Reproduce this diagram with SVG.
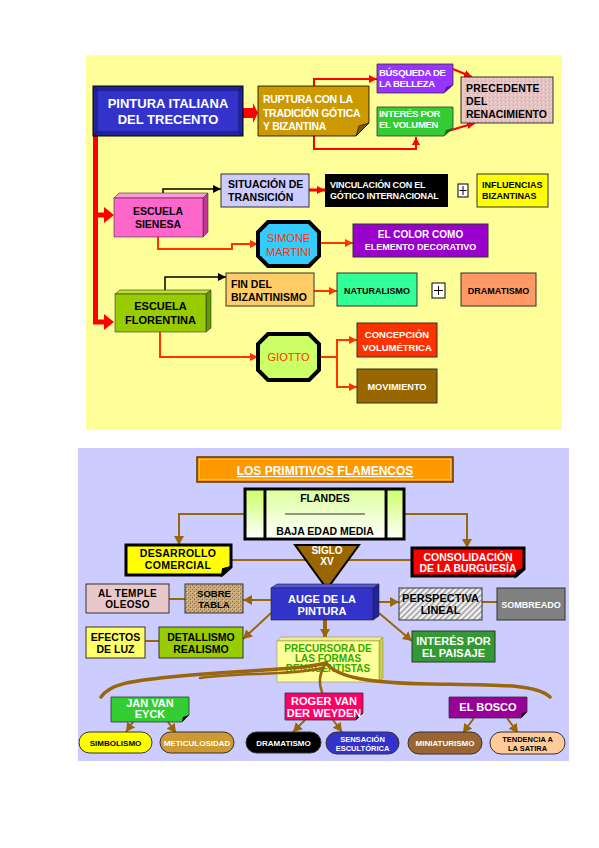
<svg xmlns="http://www.w3.org/2000/svg" width="599" height="848" viewBox="0 0 599 848">
<defs>
<style>
.t{font-family:"Liberation Sans",Arial,sans-serif;font-weight:bold}
.c{text-anchor:middle}
.w{fill:#fff}
.k{fill:#000}
.bx{stroke:#000;stroke-width:1}
.rl{fill:none;stroke:#f00;stroke-width:2}
.ol{fill:none;stroke:#ff3300;stroke-width:2}
.bl{fill:none;stroke:#000;stroke-width:1.5}
.br{fill:none;stroke:#99660a;stroke-width:2}
</style>
<marker id="ar" markerUnits="userSpaceOnUse" markerWidth="10" markerHeight="10" refX="8" refY="4" orient="auto"><path d="M0,0 L8,4 L0,8 Z" fill="#f00"/></marker>
<marker id="ao" markerUnits="userSpaceOnUse" markerWidth="10" markerHeight="10" refX="8" refY="4" orient="auto"><path d="M0,0 L8,4 L0,8 Z" fill="#ff3300"/></marker>
<marker id="ab" markerUnits="userSpaceOnUse" markerWidth="10" markerHeight="10" refX="8" refY="4" orient="auto"><path d="M0,0 L8,4 L0,8 Z" fill="#000"/></marker>
<marker id="abr" markerUnits="userSpaceOnUse" markerWidth="12" markerHeight="12" refX="9" refY="5" orient="auto"><path d="M0,0 L9,5 L0,10 Z" fill="#99660a"/></marker>
<pattern id="pink" width="4" height="4" patternUnits="userSpaceOnUse"><rect width="4" height="4" fill="#e6c4c4"/><rect x="1" y="1" width="1" height="1" fill="#c9a0a0"/><rect x="3" y="2" width="1" height="1" fill="#f3dcdc"/></pattern>
<pattern id="wood" width="4" height="4" patternUnits="userSpaceOnUse"><rect width="4" height="4" fill="#c8a878"/><rect x="0" y="1" width="1" height="1" fill="#8c6a40"/><rect x="2" y="3" width="1" height="1" fill="#8c6a40"/><rect x="3" y="0" width="1" height="1" fill="#e0c898"/></pattern>
<pattern id="hatch" width="4" height="4" patternUnits="userSpaceOnUse" patternTransform="rotate(45)"><rect width="4" height="4" fill="#f2f2f2"/><rect width="1.5" height="4" fill="#9a9a9a"/></pattern>
<linearGradient id="gfl" x1="0" y1="0" x2="0" y2="1"><stop offset="0" stop-color="#ccff66"/><stop offset="1" stop-color="#ffffff"/></linearGradient>
</defs>

<!-- backgrounds -->
<rect x="86" y="55" width="476" height="375" fill="#ffff99"/>
<rect x="78" y="448" width="491" height="313" fill="#ccccff"/>

<!-- ===================== TOP DIAGRAM ===================== -->
<g id="connectors-top">
  <polygon points="241,108 253,108 253,103 258,113 253,123 253,118 241,118" fill="#f00"/>
  <path d="M95.5,136 V322 H106" fill="none" stroke="#f00" stroke-width="5"/>
  <path d="M95.5,215 H106" fill="none" stroke="#f00" stroke-width="5"/>
  <polygon points="104,207 114,215 104,223" fill="#f00"/>
  <polygon points="104,314 114,322 104,330" fill="#f00"/>
  <path class="rl" d="M314,86 V79 H377" marker-end="url(#ar)"/>
  <path class="rl" d="M314,136 V149 H416 V137" marker-end="url(#ar)"/>
  <path class="rl" d="M453,69 L472,77" marker-end="url(#ar)"/>
  <path class="rl" d="M448,131 L475,123" marker-end="url(#ar)"/>
  <path class="bl" d="M163,194 V189 H221" marker-end="url(#ab)"/>
  <path class="bl" d="M165,290 V277 H226" marker-end="url(#ab)"/>
  <path class="rl" style="stroke-width:3" d="M309,190 H325" marker-end="url(#ar)"/>
  <path class="ol" d="M158,237 V249 H232 V244 H258" marker-end="url(#ao)"/>
  <path class="ol" d="M319,243 H353" marker-end="url(#ao)"/>
  <path class="ol" d="M160,332 V357 H258" marker-end="url(#ao)"/>
  <path class="ol" d="M314,291 H337" marker-end="url(#ao)"/>
  <path class="ol" d="M319,357 H337"/>
  <path class="ol" d="M337,340 V387"/>
  <path class="ol" d="M336,340 H357" marker-end="url(#ao)"/>
  <path class="ol" d="M336,387 H357" marker-end="url(#ao)"/>
</g>

<g id="pintura">
  <rect x="93" y="86" width="150" height="50" fill="#22229a" stroke="#000"/>
  <rect x="98" y="91" width="140" height="40" fill="#3333cc"/>
  <path d="M93,86 L98,91 M243,86 L238,91 M93,136 L98,131 M243,136 L238,131" stroke="#111166"/>
  <text class="t c w" x="168" y="108" font-size="13">PINTURA ITALIANA</text>
  <text class="t c w" x="168" y="124" font-size="13">DEL TRECENTO</text>
</g>

<g id="ruptura">
  <path d="M258,86 H369 V123 L356,136 H258 Z" fill="#cc9900" stroke="#000" stroke-width="0.8"/>
  <path d="M356,136 L369,123 L359,126 Z" fill="#7a5a00" stroke="#000" stroke-width="0.6"/>
  <text class="t w" x="263" y="103" font-size="10.5" letter-spacing="-0.3">RUPTURA CON LA</text>
  <text class="t w" x="263" y="117" font-size="10.5" letter-spacing="-0.3">TRADICIÓN GÓTICA</text>
  <text class="t w" x="263" y="130" font-size="10.5" letter-spacing="-0.3">Y BIZANTINA</text>
</g>

<g id="busqueda">
  <path d="M377,64 H453 V85 L444,93 H377 Z" fill="#9933ff" stroke="#333" stroke-width="0.8"/>
  <path d="M444,93 L453,85 L446,87 Z" fill="#5a1a99"/>
  <text class="t w" x="379" y="76" font-size="9.5" letter-spacing="-0.3">BÚSQUEDA DE</text>
  <text class="t w" x="379" y="87" font-size="9.5" letter-spacing="-0.3">LA BELLEZA</text>
</g>

<g id="interes-volumen">
  <path d="M377,107 H453 V128 L444,136 H377 Z" fill="#33cc33" stroke="#333" stroke-width="0.8"/>
  <path d="M444,136 L453,128 L446,130 Z" fill="#1a661a"/>
  <text class="t w" x="379" y="117" font-size="9.5" letter-spacing="-0.3">INTERÉS POR</text>
  <text class="t w" x="379" y="128" font-size="9.5" letter-spacing="-0.3">EL VOLUMEN</text>
</g>

<g id="precedente">
  <rect x="461" y="77" width="92" height="46" fill="url(#pink)" stroke="#333" stroke-width="1"/>
  <text class="t k" x="466" y="92" font-size="10.5" letter-spacing="0.2">PRECEDENTE</text>
  <text class="t k" x="466" y="105" font-size="10.5" letter-spacing="0.2">DEL</text>
  <text class="t k" x="466" y="118" font-size="10.5" letter-spacing="0">RENACIMIENTO</text>
</g>

<g id="sienesa">
  <polygon points="114,198 119,193 208,193 203,198" fill="#ff99dd" stroke="#333" stroke-width="0.6"/>
  <polygon points="203,198 208,193 208,232 203,237" fill="#cc3399" stroke="#333" stroke-width="0.6"/>
  <rect x="114" y="198" width="89" height="39" fill="#ff66cc" stroke="#333" stroke-width="0.6"/>
  <text class="t c k" x="158" y="215" font-size="10.5">ESCUELA</text>
  <text class="t c k" x="158" y="228" font-size="10.5">SIENESA</text>
</g>

<g id="situacion">
  <rect x="221" y="174" width="88" height="33" fill="#ccccff" stroke="#333" stroke-width="1"/>
  <text class="t k" x="228" y="188" font-size="10.5" fill="#222">SITUACIÓN DE</text>
  <text class="t k" x="228" y="201" font-size="10.5" fill="#222">TRANSICIÓN</text>
</g>

<g id="vinculacion">
  <rect x="325" y="174" width="123" height="33" fill="#000"/>
  <text class="t w" x="330" y="188" font-size="9" letter-spacing="-0.2">VINCULACIÓN CON EL</text>
  <text class="t w" x="330" y="199" font-size="9" letter-spacing="-0.2">GÓTICO INTERNACIONAL</text>
</g>

<g id="plus1">
  <rect x="458" y="184" width="10" height="13" fill="#fff" stroke="#000"/>
  <path d="M459.5,190.5 H466.5 M463,186 V195" stroke="#000"/>
</g>

<g id="influencias">
  <rect x="477" y="174" width="71" height="33" fill="#ffff00" stroke="#333" stroke-width="1"/>
  <text class="t k" x="482" y="188" font-size="9">INFLUENCIAS</text>
  <text class="t k" x="482" y="199" font-size="9">BIZANTINAS</text>
</g>

<g id="simone">
  <polygon points="268,222 309,222 319,232 319,256 309,266 268,266 258,256 258,232" fill="#33ccff" stroke="#000" stroke-width="4"/>
  <text class="c" font-family="Liberation Sans, Arial, sans-serif" x="288.5" y="242" font-size="11" fill="#ff3300">SIMONE</text>
  <text class="c" font-family="Liberation Sans, Arial, sans-serif" x="288.5" y="256" font-size="11" fill="#ff3300">MARTINI</text>
</g>

<g id="el-color">
  <rect x="353" y="224" width="135" height="33" fill="#9900cc" stroke="#333" stroke-width="1"/>
  <text class="t c w" x="420.5" y="238" font-size="10">EL COLOR COMO</text>
  <text class="t c w" x="420.5" y="250" font-size="9">ELEMENTO DECORATIVO</text>
</g>

<g id="florentina">
  <polygon points="115,294 120,290 211,290 206,294" fill="#bbe033" stroke="#333" stroke-width="0.6"/>
  <polygon points="206,294 211,290 211,328 206,332" fill="#669900" stroke="#333" stroke-width="0.6"/>
  <rect x="115" y="294" width="91" height="38" fill="#99cc00" stroke="#333" stroke-width="0.6"/>
  <text class="t c k" x="160.5" y="310" font-size="11">ESCUELA</text>
  <text class="t c k" x="160.5" y="324" font-size="11">FLORENTINA</text>
</g>

<g id="fin-bizantinismo">
  <rect x="226" y="273" width="88" height="33" fill="#ffcc66" stroke="#333" stroke-width="1"/>
  <text class="t k" x="231" y="288" font-size="10.5">FIN DEL</text>
  <text class="t k" x="231" y="301" font-size="10.5">BIZANTINISMO</text>
</g>

<g id="naturalismo">
  <rect x="337" y="273" width="80" height="33" fill="#33ff99" stroke="#333" stroke-width="1"/>
  <text class="t c k" x="377" y="294" font-size="9">NATURALISMO</text>
</g>

<g id="plus2">
  <rect x="432" y="283" width="13" height="15" fill="#fff" stroke="#000"/>
  <path d="M434,290.5 H443 M438.5,286 V295" stroke="#000"/>
</g>

<g id="dramatismo-top">
  <rect x="461" y="273" width="75" height="33" fill="#ff9966" stroke="#333" stroke-width="1"/>
  <text class="t c k" x="498.5" y="294" font-size="9" fill="#222">DRAMATISMO</text>
</g>

<g id="giotto">
  <polygon points="268,334 309,334 319,344 319,370 309,380 268,380 258,370 258,344" fill="#ccff66" stroke="#000" stroke-width="4"/>
  <text class="c" font-family="Liberation Sans, Arial, sans-serif" x="288.5" y="361" font-size="11" fill="#ff3300">GIOTTO</text>
</g>

<g id="concepcion">
  <rect x="357" y="323" width="80" height="34" fill="#ff3300" stroke="#333" stroke-width="1"/>
  <text class="t c w" x="397" y="338" font-size="9.5">CONCEPCIÓN</text>
  <text class="t c w" x="397" y="351" font-size="9.5">VOLUMÉTRICA</text>
</g>

<g id="movimiento">
  <rect x="357" y="369" width="80" height="34" fill="#996600" stroke="#333" stroke-width="1"/>
  <text class="t c w" x="397" y="390" font-size="9.2">MOVIMIENTO</text>
</g>

<!-- ===================== BOTTOM DIAGRAM ===================== -->
<g id="connectors-bottom">
  <path class="br" d="M245,514 H179 V545" marker-end="url(#abr)"/>
  <path class="br" d="M404,514 H467 V548" marker-end="url(#abr)"/>
  <path class="br" d="M231,560 H308"/>
  <path class="br" d="M346,560 H412"/>
  <path class="br" d="M271,600 H243" marker-end="url(#abr)"/>
  <path class="br" d="M169,599 H185"/>
  <path class="br" d="M271,613 L243,639" marker-end="url(#abr)"/>
  <path class="br" d="M145,641 H159"/>
  <path class="br" d="M379,602 H399" marker-end="url(#abr)"/>
  <path class="br" d="M482,602 H497"/>
  <path class="br" d="M379,613 L412,641" marker-end="url(#abr)"/>
  <path class="br" style="stroke-width:4" d="M325,620 V638" marker-end="url(#abr)"/>
  <path class="br" d="M133,722 L126,732" marker-end="url(#abr)"/>
  <path class="br" d="M168,722 L176,733" marker-end="url(#abr)"/>
  <path class="br" d="M305,720 L293,732" marker-end="url(#abr)"/>
  <path class="br" d="M333,720 L342,732" marker-end="url(#abr)"/>
  <path class="br" d="M474,718 L463,733" marker-end="url(#abr)"/>
  <path class="br" d="M507,718 L518,733" marker-end="url(#abr)"/>
</g>

<g id="titulo">
  <rect x="197" y="457" width="256" height="25" fill="#ff9900" stroke="#663300" stroke-width="1.5"/>
  <rect x="199.5" y="459.5" width="251" height="20" fill="none" stroke="#ffcc66" stroke-width="0.8"/>
  <text class="t c w" x="325" y="475" font-size="12" text-decoration="underline">LOS PRIMITIVOS FLAMENCOS</text>
</g>

<g id="flandes">
  <rect x="245" y="489" width="159" height="50" fill="url(#gfl)" stroke="#000" stroke-width="3"/>
  <path d="M265,489 V539 M386,489 V539" stroke="#000" stroke-width="3"/>
  <rect x="266.5" y="490.5" width="118" height="47" fill="#fff" opacity="0.35"/>
  <text class="t c k" x="325" y="502" font-size="10.5">FLANDES</text>
  <path d="M285,514 H365" stroke="#333" stroke-width="1.2"/>
  <text class="t c k" x="325" y="535" font-size="10.5">BAJA EDAD MEDIA</text>
</g>

<g id="desarrollo">
  <path d="M126,545 H231 V567 L222,575 H126 Z" fill="#ffff00" stroke="#000" stroke-width="3"/>
  <path d="M222,575 L231,567 L223,569 Z" fill="#000" stroke="#000" stroke-width="2"/>
  <text class="t c k" x="178" y="557" font-size="10.5" letter-spacing="0.3">DESARROLLO</text>
  <text class="t c k" x="178" y="569" font-size="10.5" letter-spacing="0.3">COMERCIAL</text>
</g>

<g id="siglo">
  <polygon points="295,545 359,545 327,589" fill="#996600" stroke="#000" stroke-width="2"/>
  <text class="t c w" x="327" y="554" font-size="10">SIGLO</text>
  <text class="t c w" x="327" y="565" font-size="10">XV</text>
</g>

<g id="consolidacion">
  <path d="M412,548 H524 V569 L516,576 H412 Z" fill="#ff0000" stroke="#000" stroke-width="3"/>
  <path d="M516,576 L524,569 L517,571 Z" fill="#000" stroke="#000" stroke-width="2"/>
  <text class="t c w" x="468" y="561" font-size="10.5">CONSOLIDACIÓN</text>
  <text class="t c w" x="468" y="572" font-size="10.5">DE LA BURGUESÍA</text>
</g>

<g id="auge">
  <polygon points="271,588 277,584 379,584 373,588" fill="#5555dd" stroke="#222" stroke-width="0.6"/>
  <polygon points="373,588 379,584 379,616 373,620" fill="#222299" stroke="#222" stroke-width="0.6"/>
  <rect x="271" y="588" width="102" height="32" fill="#3333cc" stroke="#222" stroke-width="0.6"/>
  <text class="t c w" x="322" y="603" font-size="11">AUGE DE LA</text>
  <text class="t c w" x="322" y="615" font-size="11">PINTURA</text>
</g>

<g id="sobre-tabla">
  <rect x="185" y="584" width="58" height="29" fill="url(#wood)" stroke="#333" stroke-width="1"/>
  <text class="t c k" x="214" y="597" font-size="9.5">SOBRE</text>
  <text class="t c k" x="214" y="608" font-size="9.5">TABLA</text>
</g>

<g id="al-temple">
  <rect x="86" y="584" width="83" height="29" fill="#e8c8c8" stroke="#333" stroke-width="1"/>
  <text class="t c k" x="127.5" y="597" font-size="10" letter-spacing="0.3">AL TEMPLE</text>
  <text class="t c k" x="127.5" y="608" font-size="10" letter-spacing="0.3">OLEOSO</text>
</g>

<g id="detallismo">
  <rect x="159" y="627" width="84" height="31" fill="#99cc00" stroke="#333" stroke-width="1"/>
  <text class="t c k" x="201" y="641" font-size="10.5">DETALLISMO</text>
  <text class="t c k" x="201" y="653" font-size="10.5">REALISMO</text>
</g>

<g id="efectos">
  <rect x="86" y="627" width="59" height="31" fill="#ffff66" stroke="#333" stroke-width="1"/>
  <text class="t c k" x="115.5" y="641" font-size="10.5">EFECTOS</text>
  <text class="t c k" x="115.5" y="653" font-size="10.5">DE LUZ</text>
</g>

<g id="perspectiva">
  <rect x="399" y="588" width="83" height="32" fill="url(#hatch)" stroke="#333" stroke-width="1"/>
  <text class="t c k" x="440.5" y="602" font-size="11">PERSPECTIVA</text>
  <text class="t c k" x="440.5" y="614" font-size="11">LINEAL</text>
</g>

<g id="sombreado">
  <rect x="497" y="588" width="68" height="32" fill="#808080" stroke="#333" stroke-width="1"/>
  <text class="t c w" x="531" y="607.5" font-size="9">SOMBREADO</text>
</g>

<g id="interes-paisaje">
  <rect x="412" y="631" width="83" height="31" fill="#339933" stroke="#333" stroke-width="1"/>
  <text class="t c w" x="453.5" y="645" font-size="11">INTERÉS POR</text>
  <text class="t c w" x="453.5" y="657" font-size="11">EL PAISAJE</text>
</g>

<g id="precursora">
  <polygon points="277,641 281,637 383,637 379,641" fill="#eeee88" stroke="#999933" stroke-width="0.6"/>
  <polygon points="379,641 383,637 383,678 379,682" fill="#cccc55" stroke="#999933" stroke-width="0.6"/>
  <rect x="277" y="641" width="102" height="41" fill="#ffff99" stroke="#999933" stroke-width="0.6"/>
  <text class="t c" x="328" y="652" font-size="10" fill="#33aa00">PRECURSORA DE</text>
  <text class="t c" x="328" y="662" font-size="10" fill="#33aa00">LAS FORMAS</text>
  <text class="t c" x="328" y="672" font-size="10" fill="#33aa00">RENACENTISTAS</text>
</g>

<g id="llave">
  <path d="M326,663 C300,670 240,670 170,677 C130,681 110,684 101,697" fill="none" stroke="#99660a" stroke-width="3.5" stroke-linecap="round"/>
  <path d="M322,668 C290,676 240,672 200,678" fill="none" stroke="#99660a" stroke-width="2.5" stroke-linecap="round"/>
  <path d="M326,663 C338,678 370,683 430,684 C500,685 536,684 550,697" fill="none" stroke="#99660a" stroke-width="3.5" stroke-linecap="round"/>
  <path d="M326,663 C320,672 318,682 322,692" fill="none" stroke="#99660a" stroke-width="2.5" stroke-linecap="round"/>
</g>

<g id="jan-van-eyck">
  <path d="M111,697 H189 V715 L182,722 H111 Z" fill="#33cc33" stroke="#333" stroke-width="0.8"/>
  <path d="M182,722 L189,715 L183,717 Z" fill="#000"/>
  <text class="t c w" x="150" y="707" font-size="11">JAN VAN</text>
  <text class="t c w" x="150" y="718" font-size="11">EYCK</text>
</g>

<g id="roger">
  <path d="M285,693 H363 V713 L356,720 H285 Z" fill="#ff0066" stroke="#333" stroke-width="0.8"/>
  <path d="M356,720 L363,713 L357,715 Z" fill="#000"/>
  <text class="t c w" x="324" y="705" font-size="11">ROGER VAN</text>
  <text class="t c w" x="324" y="717" font-size="11">DER WEYDEN</text>
</g>

<g id="el-bosco">
  <path d="M449,697 H527 V712 L521,718 H449 Z" fill="#990099" stroke="#333" stroke-width="0.8"/>
  <path d="M521,718 L527,712 L522,713 Z" fill="#000"/>
  <text class="t c w" x="488" y="711" font-size="11">EL BOSCO</text>
</g>

<g id="simbolismo">
  <rect x="79" y="732" width="73" height="21" rx="10.5" fill="#ffff00" stroke="#333" stroke-width="1"/>
  <text class="t c k" x="115.5" y="745.5" font-size="8">SIMBOLISMO</text>
</g>
<g id="meticulosidad">
  <rect x="160" y="732" width="74" height="21" rx="10.5" fill="#cc9933" stroke="#333" stroke-width="1"/>
  <text class="t c w" x="197" y="745.5" font-size="8">METICULOSIDAD</text>
</g>
<g id="dramatismo-bottom">
  <rect x="246" y="732" width="75" height="21" rx="10.5" fill="#000" stroke="#333" stroke-width="1"/>
  <text class="t c w" x="283.5" y="745.5" font-size="8">DRAMATISMO</text>
</g>
<g id="sensacion">
  <rect x="326" y="732" width="73" height="22" rx="11" fill="#3333cc" stroke="#333" stroke-width="1"/>
  <text class="t c w" x="362.5" y="741.5" font-size="7.5">SENSACIÓN</text>
  <text class="t c w" x="362.5" y="750.5" font-size="7.5">ESCULTÓRICA</text>
</g>
<g id="miniaturismo">
  <rect x="408" y="732" width="74" height="22" rx="11" fill="#996633" stroke="#333" stroke-width="1"/>
  <text class="t c w" x="445" y="745.5" font-size="8">MINIATURISMO</text>
</g>
<g id="tendencia">
  <rect x="490" y="732" width="75" height="22" rx="11" fill="#ffcc99" stroke="#333" stroke-width="1"/>
  <text class="t c k" x="527.5" y="742" font-size="7.5">TENDENCIA A</text>
  <text class="t c k" x="527.5" y="751" font-size="7.5">LA SATIRA</text>
</g>
</svg>
